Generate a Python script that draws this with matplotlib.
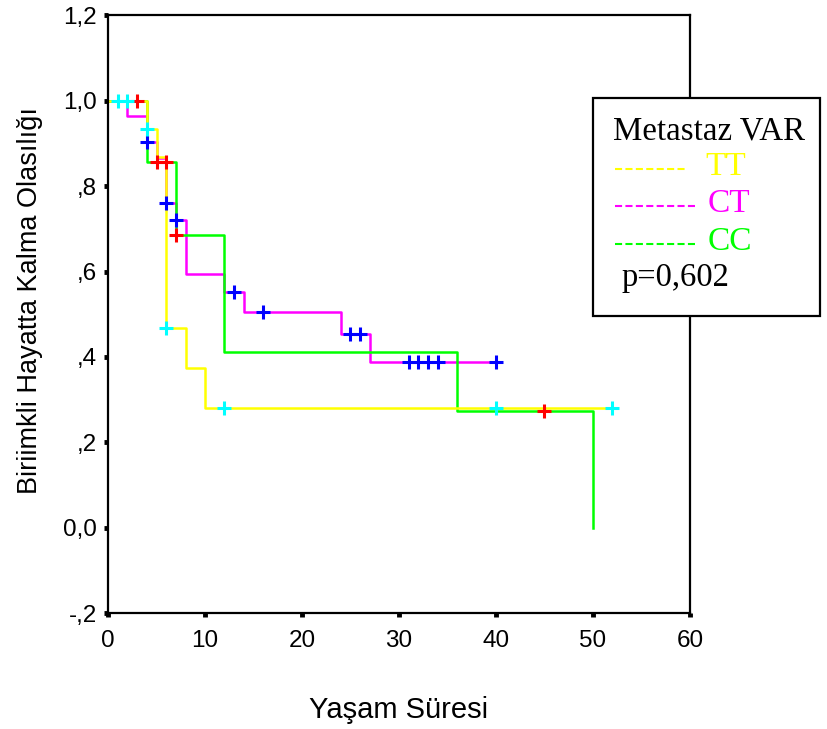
import numpy as np
import matplotlib
matplotlib.use("Agg")
import matplotlib.pyplot as plt
from matplotlib.lines import Line2D
from matplotlib.patches import Rectangle

# Kaplan-Meier basamaklari (zaman, hayatta kalma)
tt_times = [0, 4, 5, 6, 8, 10, 52]
tt_surv = [1.0, 0.933, 0.867, 0.467, 0.375, 0.281, 0.281]
tt_censor = [1, 2, 4, 6, 12, 40, 52]

ct_times = [0, 2, 4, 5, 6, 7, 8, 12, 14, 24, 27, 40]
ct_surv = [1.0, 0.965, 0.904, 0.866, 0.761, 0.721, 0.595, 0.551, 0.506, 0.454, 0.389, 0.389]
ct_censor = [4, 6, 7, 13, 16, 25, 26, 31, 32, 33, 34, 40]

cc_times = [0, 4, 7, 12, 36, 50]
cc_surv = [1.0, 0.857, 0.686, 0.412, 0.274, 0.0]
cc_censor = [3, 5, 6, 7, 45]

x_ticks = [0, 10, 20, 30, 40, 50, 60]
y_ticks = [-0.2, 0.0, 0.2, 0.4, 0.6, 0.8, 1.0, 1.2]
y_labels = ["-,2", "0,0", ",2", ",4", ",6", ",8", "1,0", "1,2"]

plt.rcParams["font.family"] = ["Liberation Sans", "DejaVu Sans"]

fig = plt.figure(figsize=(8.27, 7.29), dpi=100)
ax = fig.add_axes([0.1306, 0.159, 0.7037, 0.820])


def surv_at(times, surv, t):
    idx = np.searchsorted(times, t, side="right") - 1
    return surv[idx]


groups = [
    (ct_times, ct_surv, ct_censor, "#ff00ff", "#0000ff"),
    (cc_times, cc_surv, cc_censor, "#00ff00", "#ff0000"),
    (tt_times, tt_surv, tt_censor, "#ffff00", "#00ffff"),
]

for times, surv, cens, col, ccol in groups:
    ax.step(times, surv, where="post", color=col, lw=1.8, zorder=2)

for times, surv, cens, col, ccol in groups:
    cy = [surv_at(times, surv, t) for t in cens]
    ax.plot(cens, cy, linestyle="none", marker="+", markersize=10.5,
            markeredgewidth=2.2, color=ccol, zorder=3)

ax.set_xlim(0, 60)
ax.set_ylim(-0.2, 1.2)
ax.set_xticks(x_ticks)
ax.set_yticks(y_ticks)
ax.set_yticklabels(y_labels)
ax.tick_params(direction="out", length=3, width=3.5, labelsize=17.5, pad=5)
ax.tick_params(axis="x", pad=9)
for s in ax.spines.values():
    s.set_linewidth(1.6)

ax.set_xlabel("Yaşam Süresi", fontsize=21, va="center")
ax.xaxis.set_label_coords(0.5, -0.162)
ax.set_ylabel("Biriimkli Hayatta Kalma Olasılığı", fontsize=19.5, va="center")
ax.yaxis.set_label_coords(-0.134, 0.523)

# legend kutusu (sekil koordinatlari)
W, H = 827, 729
box = Rectangle((593 / W, 1 - 316 / H), (820 - 593) / W, (316 - 98) / H,
                transform=fig.transFigure, facecolor="white",
                edgecolor="black", lw=1.6, zorder=5)
fig.add_artist(box)

serif = ["Liberation Serif", "DejaVu Serif"]
fig.text(613 / W, 1 - 131 / H, "Metastaz VAR", fontsize=23.7, family=serif,
         va="center", ha="left", zorder=6)
legend_rows = [("TT", "#ffff00", 167, 687, 705), ("CT", "#ff00ff", 204, 698, 708),
               ("CC", "#00ff00", 242, 698, 708)]
for name, col, yy, xend, xtxt in legend_rows:
    fig.add_artist(Line2D([615 / W, xend / W], [1 - (yy + 2) / H, 1 - (yy + 2) / H],
                          transform=fig.transFigure, color=col, lw=1.5,
                          dashes=(3.4, 1.6), zorder=6))
    fig.text(xtxt / W, 1 - yy / H, name, fontsize=24, family=serif,
             color=col, va="center", ha="left", zorder=6)
fig.text(622 / W, 1 - 278 / H, "p=0,602", fontsize=23.5, family=serif,
         va="center", ha="left", zorder=6)

fig.savefig("out.png", dpi=100)
